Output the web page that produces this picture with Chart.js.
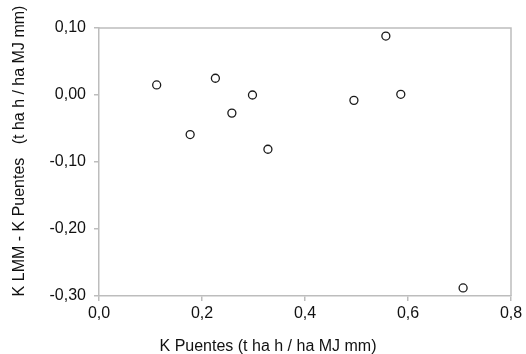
<!DOCTYPE html>
<html><head><meta charset="utf-8">
<script src="https://cdn.jsdelivr.net/npm/chart.js@4/dist/chart.umd.min.js"></script>
<style>html,body{margin:0;padding:0;background:#fff;overflow:hidden;}</style>
</head><body>
<canvas id="c" width="526" height="354" style="display:block;width:526px;height:354px"></canvas>
<script>
const xValues = [0.112, 0.177, 0.226, 0.258, 0.298, 0.328, 0.495, 0.557, 0.586, 0.707];
const yValues = [0.015, -0.059, 0.025, -0.027, 0.000, -0.081, -0.008, 0.088, 0.001, -0.288];
const xTickValues = [0, 0.2, 0.4, 0.6, 0.8];
const xTickLabels = ['0,0', '0,2', '0,4', '0,6', '0,8'];
const yTickValues = [-0.3, -0.2, -0.1, 0, 0.1];
const yTickLabels = ['-0,30', '-0,20', '-0,10', '0,00', '0,10'];
const xTitle = 'K Puentes (t ha h / ha MJ mm)';
const yTitle = 'K LMM - K Puentes   (t ha h / ha MJ mm)';

const FONT = '"Liberation Sans", Arial, sans-serif';
const TEXT = '#111';
const AXIS = '#bdbdbd';

const points = xValues.map((x, i) => ({x: x, y: yValues[i]}));

const framePlugin = {
  id: 'frameAndTitles',
  afterDraw(chart) {
    const {ctx, chartArea: a} = chart;
    ctx.save();
    ctx.strokeStyle = AXIS;
    ctx.lineWidth = 1.5;
    ctx.beginPath();
    ctx.moveTo(a.left, a.top);
    ctx.lineTo(a.right, a.top);
    ctx.lineTo(a.right, a.bottom);
    ctx.stroke();
    ctx.fillStyle = TEXT;
    ctx.font = '16px ' + FONT;
    ctx.textAlign = 'center';
    ctx.textBaseline = 'alphabetic';
    ctx.fillText(xTitle, chart.width / 2 + 5, chart.height - 3);
    ctx.translate(24, (a.top + a.bottom) / 2 - 11);
    ctx.rotate(-Math.PI / 2);
    ctx.fillText(yTitle, 0, 0);
    ctx.restore();
  }
};

new Chart(document.getElementById('c'), {
  type: 'scatter',
  data: {
    datasets: [{
      data: points,
      pointStyle: 'circle',
      pointRadius: 4,
      pointHoverRadius: 4,
      pointBackgroundColor: '#ffffff',
      pointBorderColor: '#1a1a1a',
      pointBorderWidth: 1.3,
      showLine: false
    }]
  },
  options: {
    responsive: false,
    devicePixelRatio: 1,
    animation: false,
    layout: {padding: {top: 28, right: 15, left: 0, bottom: 0}},
    plugins: {legend: {display: false}, tooltip: {enabled: false}},
    scales: {
      x: {
        type: 'linear',
        min: 0, max: 0.8,
        afterBuildTicks: s => { s.ticks = xTickValues.map(v => ({value: v})); },
        afterFit: s => { s.height = 58; },
        ticks: {
          callback: (v, i) => xTickLabels[i],
          font: {family: FONT, size: 16},
          color: TEXT,
          padding: 3,
          maxRotation: 0,
          autoSkip: false
        },
        grid: {drawOnChartArea: false, drawTicks: true, tickLength: 5, color: AXIS, lineWidth: 1.5},
        border: {display: true, color: AXIS, width: 1.5}
      },
      y: {
        type: 'linear',
        min: -0.3, max: 0.1,
        afterBuildTicks: s => { s.ticks = yTickValues.map(v => ({value: v})); },
        afterFit: s => { s.width = 99; },
        ticks: {
          callback: (v, i) => yTickLabels[i],
          font: {family: FONT, size: 16},
          color: TEXT,
          padding: 8,
          autoSkip: false
        },
        grid: {drawOnChartArea: false, drawTicks: true, tickLength: 5, color: AXIS, lineWidth: 1.5},
        border: {display: true, color: AXIS, width: 1.5}
      }
    }
  },
  plugins: [framePlugin]
});
</script>
</body></html>
